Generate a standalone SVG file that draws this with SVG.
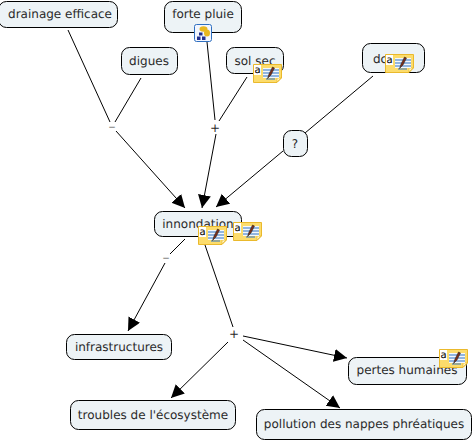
<svg xmlns="http://www.w3.org/2000/svg" width="475" height="441" viewBox="0 0 475 441">
<style>
text{font-family:"DejaVu Sans",Verdana,sans-serif;font-size:12px;fill:#2a2a2a;text-rendering:geometricPrecision}
.n>rect{fill:#edf3f6;stroke:#000;stroke-width:1}
.n>text{text-anchor:middle}
.c line{stroke:#000;stroke-width:1}
.a line{marker-end:url(#ah)}
.l{text-anchor:middle}
.m{font-size:9px;fill:#555}
</style>
<defs>
<marker id="ah" markerUnits="userSpaceOnUse" markerWidth="14" markerHeight="14" refX="13" refY="6.5" orient="auto"><path d="M0 0L13 6.5L0 13Z" fill="#000"/></marker>
<g id="note">
<path d="M0.500 0.500H28.500V14L24 18.500H0.500Z" fill="#fcdc6c" stroke="#eab92c"/>
<path d="M24 18V14H28Z" fill="#fff6c8" stroke="#eab92c" stroke-width=".7"/>
<rect x="1" y="1" width="7" height="10" fill="#fff"/>
<text x="1.500" y="9" style="font-size:10px;fill:#000">a</text>
<rect x="10" y="4" width="16" height="10" fill="#f4f8fc"/>
<path d="M10 6H26M10 9H26M10 12H26M13 15H22" stroke="#2f72c4" stroke-width="1.200" fill="none"/>
<path d="M14.500 14.500L16 10L19.500 3L21.500 4L18 11Z" fill="#7a2f1c" stroke="#1c1c1c" stroke-width=".5"/>
</g>
</defs>
<g id="connectors" class="c">
<line x1="68" y1="30" x2="110" y2="122"/>
<line x1="141" y1="78" x2="115" y2="122"/>
<line x1="207" y1="42" x2="215" y2="120"/>
<line x1="247" y1="77" x2="219" y2="121"/>
<line x1="373" y1="76" x2="305" y2="133"/>
<line x1="185" y1="239" x2="170" y2="254"/>
<line x1="205" y1="245" x2="233" y2="327"/>
<g class="a">
<line x1="116" y1="131" x2="185" y2="208"/>
<line x1="216" y1="134" x2="202" y2="208"/>
<line x1="283" y1="151" x2="216" y2="207"/>
<line x1="165" y1="263" x2="128" y2="331"/>
<line x1="228" y1="342" x2="171" y2="398"/>
<line x1="243" y1="336" x2="347" y2="358"/>
<line x1="243" y1="340" x2="340" y2="408"/>
</g>
<text class="l m" x="112" y="130">−</text>
<text class="l" x="215" y="132">+</text>
<text class="l m" x="166" y="261">−</text>
<text class="l" x="234" y="338">+</text>
</g>
<g id="drainage" class="n"><rect x="-1.500" y="1.500" width="119" height="26" rx="8"/><text x="60" y="18">drainage efficace</text></g>
<g id="forte-pluie" class="n"><rect x="164.500" y="1.500" width="77" height="31" rx="8"/><text x="203" y="18">forte pluie</text>
<g id="cmap-icon"><rect x="194.500" y="24.500" width="17" height="17" rx="2" fill="#f2f6ff" stroke="#2f6fc0"/><ellipse cx="203.500" cy="29" rx="4" ry="2.800" fill="#e8b820"/><ellipse cx="207" cy="33" rx="3" ry="3.500" fill="#e8b820"/><path d="M197 36.500h3.500v3.500h-3.500zM202 36.500h3.500v3.500h-3.500zM199 32.500h3.500v3h-3.500z" fill="#22308f"/></g></g>
<g id="digues" class="n"><rect x="121.500" y="47.500" width="56" height="27" rx="8"/><text x="149" y="65">digues</text></g>
<g id="sol-sec" class="n"><rect x="226.500" y="47.500" width="57" height="26" rx="8"/><text x="255" y="65">sol sec</text><use href="#note" x="253" y="64"/></g>
<g id="dca" class="n"><rect x="362.500" y="43.500" width="62" height="29" rx="8"/><text x="373" y="63" style="text-anchor:start">dc</text><use href="#note" x="385" y="54"/></g>
<g id="question" class="n"><rect x="283.500" y="130.500" width="24" height="26" rx="8"/><text x="295" y="148">?</text></g>
<g id="innondation" class="n"><rect x="154.500" y="211.500" width="87" height="25" rx="8"/><text x="198" y="228">innondation</text><use href="#note" x="198" y="226"/><use href="#note" x="233" y="222"/></g>
<g id="infrastructures" class="n"><rect x="66.500" y="334.500" width="105" height="25" rx="8"/><text x="119" y="351">infrastructures</text></g>
<g id="troubles" class="n"><rect x="70.500" y="400.500" width="165" height="29" rx="8"/><text x="153" y="419">troubles de l'écosystème</text></g>
<g id="pertes" class="n"><rect x="348.500" y="357.500" width="118" height="27" rx="8"/><text x="407" y="374">pertes humaines</text><use href="#note" x="439" y="349"/></g>
<g id="pollution" class="n"><rect x="256.500" y="409.500" width="215" height="30" rx="8"/><text x="364" y="428">pollution des nappes phréatiques</text></g>
</svg>
